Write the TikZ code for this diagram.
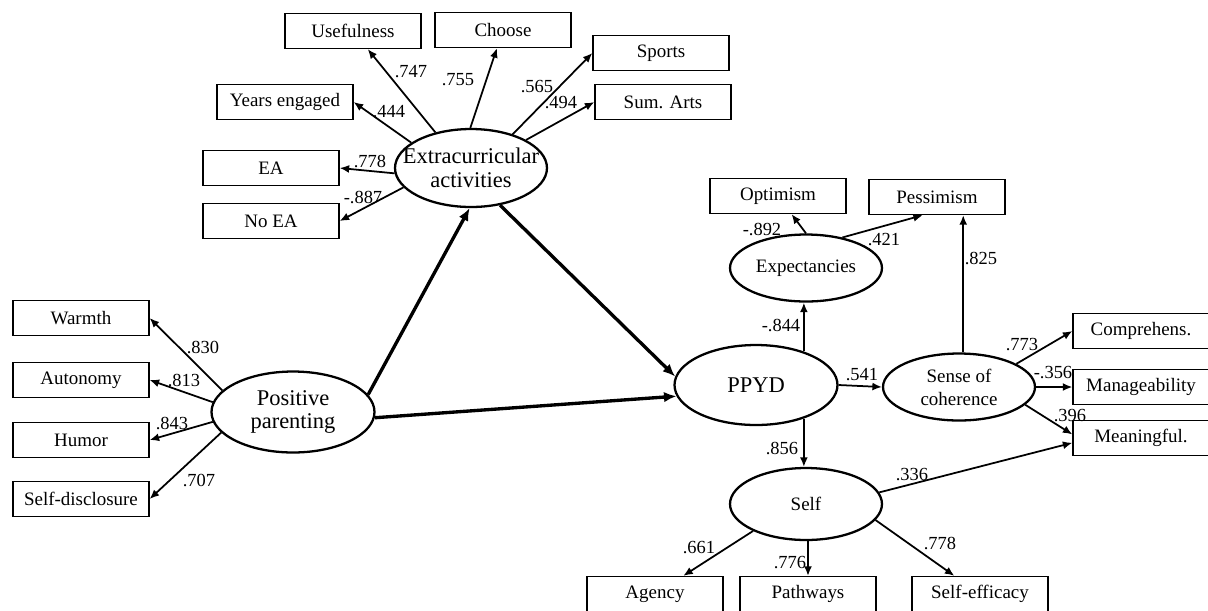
\documentclass[tikz,border=0pt]{standalone}
\usepackage{fontspec}
\setmainfont{Liberation Serif}
\usepackage{tikz}
\usetikzlibrary{arrows.meta,shapes.geometric}
\tikzset{
  indicator/.style={
    rectangle,
    draw=black,
    line width=0.75pt,
    minimum width=2.72cm,
    minimum height=0.7cm,
    inner sep=0pt,
    align=center,
    font=\fontsize{10.8}{13}\selectfont
  },
  construct/.style={
    ellipse,
    draw=black,
    line width=1.3pt,
    inner sep=-1cm,
    align=center,
    font=\fontsize{10.8}{13}\selectfont
  },
  constructBig/.style={
    construct,
    font=\fontsize{12.8}{13.5}\selectfont
  },
  arrow/.style={
    -{Latex[length=1.9mm,width=1.6mm]},
    line width=1pt
  },
  pathArrow/.style={
    -{Latex[length=2.5mm,width=2.1mm]},
    line width=1.9pt
  },
  loading/.style={
    inner sep=0pt,
    font=\fontsize{10.5}{12}\selectfont
  }
}

\begin{document}
\begin{tikzpicture}[x=0.02cm,y=-0.02cm]
  \useasboundingbox (0,0) rectangle (1208,610);
  \node[indicator] (useful) at (353,31) {Usefulness};
  \node[indicator] (choose) at (503,30) {Choose};
  \node[indicator] (sports) at (661,53) {Sports};
  \node[indicator] (sumArts) at (663,102) {Sum. Arts};
  \node[indicator] (years) at (285,102) {Years engaged};
  \node[indicator] (ea) at (271,168) {EA};
  \node[indicator] (noEA) at (271,221) {No EA};
  \node[indicator] (optimism) at (778,196) {Optimism};
  \node[indicator] (pessimism) at (937,197) {Pessimism};
  \node[indicator] (comprehens) at (1141,331) {Comprehens.};
  \node[indicator] (manage) at (1141,387) {Manageability};
  \node[indicator] (meaning) at (1141,438) {Meaningful.};
  \node[indicator] (warmth) at (81,318) {Warmth};
  \node[indicator] (autonomy) at (81,380) {Autonomy};
  \node[indicator] (humor) at (81,440) {Humor};
  \node[indicator] (selfDisc) at (81,499) {Self-disclosure};
  \node[indicator] (agency) at (655,594) {Agency};
  \node[indicator] (pathways) at (808,594) {Pathways};
  \node[indicator] (selfEff) at (980,594) {Self-efficacy};
  \node[constructBig,minimum width=3.04cm,minimum height=1.56cm] (extra) at (471,168) {Extracurricular\\activities};
  \node[constructBig,minimum width=3.26cm,minimum height=1.62cm] (parenting) at (293,412) {Positive\\parenting};
  \node[constructBig,minimum width=3.26cm,minimum height=1.6cm] (ppyd) at (756,385) {PPYD};
  \node[construct,minimum width=3.04cm,minimum height=1.34cm] (expect) at (806,268) {Expectancies};
  \node[construct,minimum width=3.04cm,minimum height=1.34cm] (sense) at (959,387) {Sense of\\coherence};
  \node[construct,minimum width=3.04cm,minimum height=1.44cm] (self) at (806,504) {Self};
  \draw[arrow] (extra.135) -- (useful);
  \draw[arrow] (extra.91) -- (choose);
  \draw[arrow] (extra.39) -- (sports.west);
  \draw[arrow] (extra.27) -- (sumArts.west);
  \draw[arrow] (extra.157) -- (years.east);
  \draw[arrow] (extra.184) -- (ea.east);
  \draw[arrow] (extra.196) -- (noEA.east);
  \draw[arrow] (parenting.163) -- (warmth.east);
  \draw[arrow] (parenting.173) -- (autonomy.east);
  \draw[arrow] (parenting.187) -- (humor.east);
  \draw[arrow] (parenting.196) -- (selfDisc.east);
  \draw[pathArrow] (parenting.13) -- (extra.-92);
  \draw[pathArrow] (parenting.-4) -- (ppyd.188);
  \draw[pathArrow] (extra.-52) -- (ppyd.174);
  \draw[arrow] (ppyd.35) -- (ppyd.35 |- expect.south);
  \draw[arrow] (ppyd.-35) -- (ppyd.-35 |- self.north);
  \draw[arrow] (ppyd.east) -- (sense.west);
  \draw[arrow] (expect.north) -- (optimism);
  \draw[arrow] (expect.40) -- (pessimism.-128);
  \draw[arrow] (sense.83) -- (sense.83 |- pessimism.south);
  \draw[arrow] (sense.22) -- (comprehens.west);
  \draw[arrow] (sense.east) -- (manage.west);
  \draw[arrow] (sense.-15) -- (meaning.177.5);
  \draw[arrow] (self.9) -- (meaning.-176);
  \draw[arrow] (self.-153) -- (agency);
  \draw[arrow] (pathways.north |- self.south) -- (pathways.north);
  \draw[arrow] (self.-13) -- (selfEff);
  \node[loading] (lUseful) at (411,72) {.747};
  \node[loading] (lChoose) at (458,80) {.755};
  \node[loading] (lSports) at (537,87) {.565};
  \node[loading] (lSumArts) at (561,103) {.494};
  \node[loading] (lYears) at (389,112) {.444};
  \node[loading] (lEA) at (370,161) {.778};
  \node[loading] (lNoEA) at (363,197) {-.887};
  \node[loading] (lWarmth) at (203,347) {.830};
  \node[loading] (lAutonomy) at (184,380) {.813};
  \node[loading] (lHumor) at (172,423) {.843};
  \node[loading] (lSelfDisc) at (199,480) {.707};
  \node[loading] (lOptimism) at (762,229) {-.892};
  \node[loading] (lPessimism) at (884,240) {.421};
  \node[loading] (lSensePess) at (981,258) {.825};
  \node[loading] (lExpect) at (781,325) {-.844};
  \node[loading] (lSense) at (862,375) {.541};
  \node[loading] (lComprehens) at (1022,345) {.773};
  \node[loading] (lManage) at (1053,373) {-.356};
  \node[loading] (lMeaning) at (1070,416) {.396};
  \node[loading] (lSelfMeaning) at (912,475) {.336};
  \node[loading] (lSelf) at (782,448) {.856};
  \node[loading] (lAgency) at (699,548) {.661};
  \node[loading] (lPathways) at (790,563) {.776};
  \node[loading] (lSelfEff) at (940,543) {.778};
\end{tikzpicture}
\end{document}
